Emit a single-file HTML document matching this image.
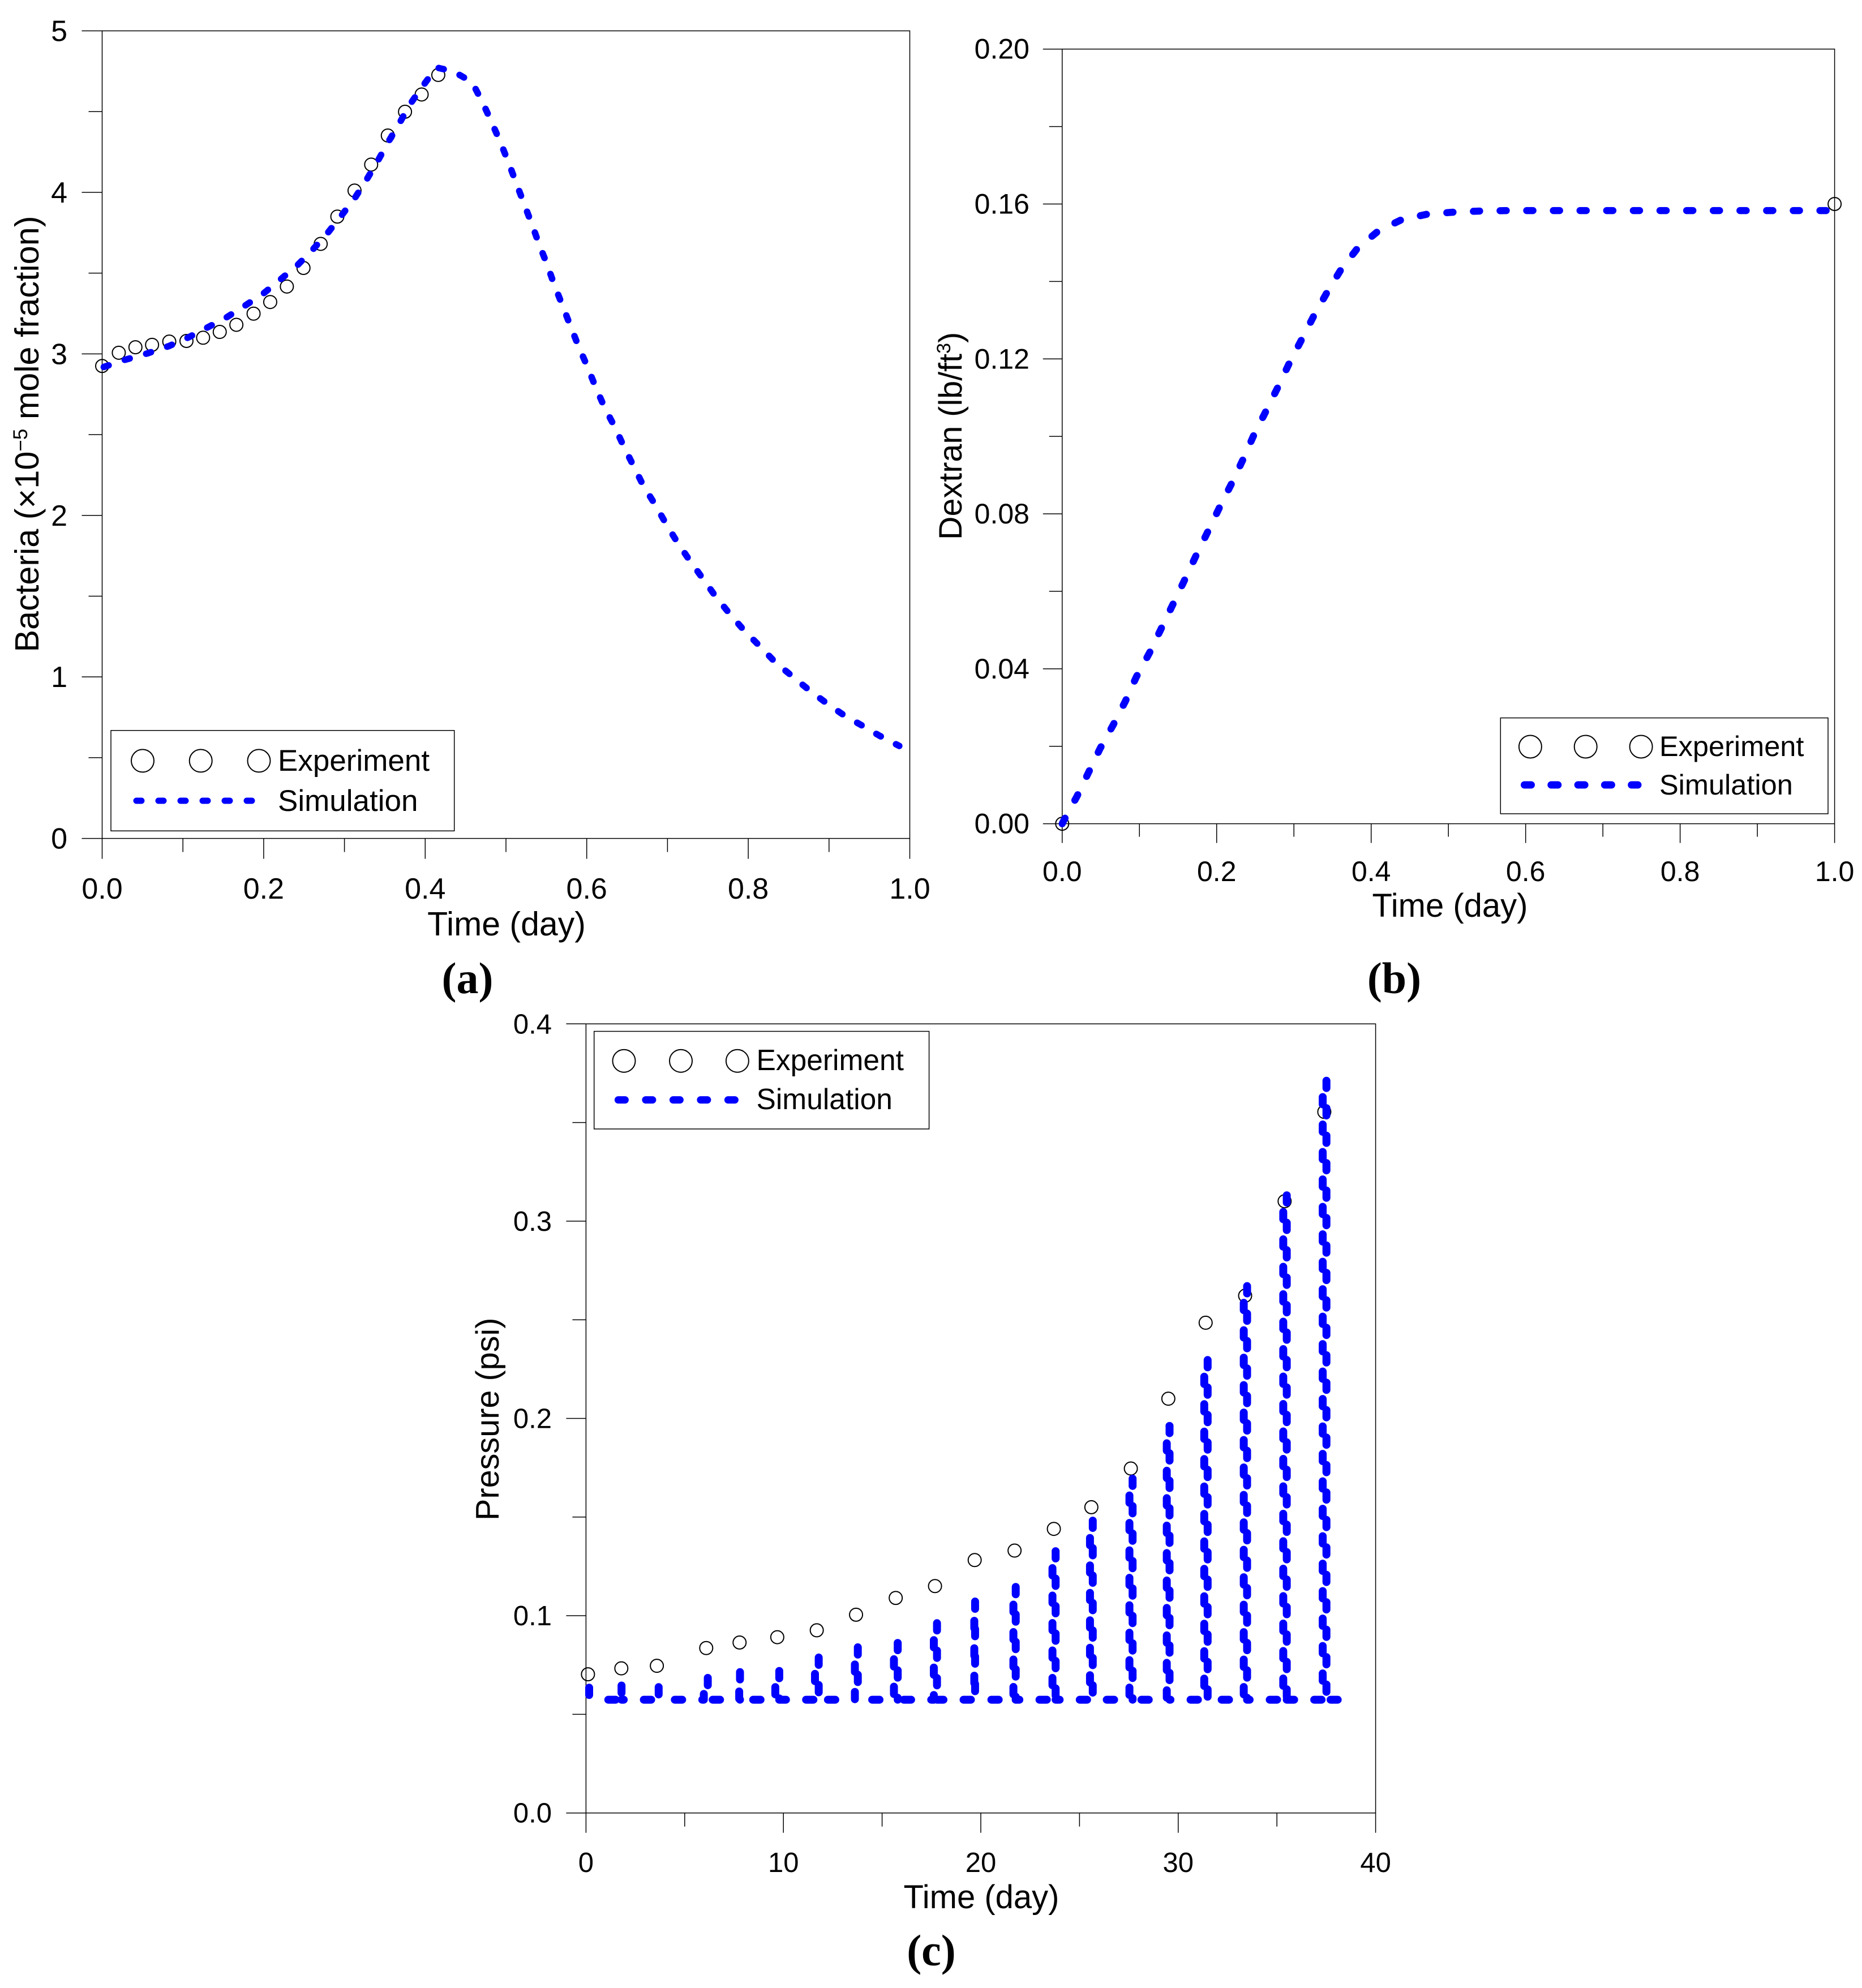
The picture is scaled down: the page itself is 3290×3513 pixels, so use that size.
<!DOCTYPE html>
<html lang="en">
<head>
<meta charset="utf-8">
<title>Bacteria, dextran and pressure: experiment vs simulation</title>
<style>
html,body{margin:0;padding:0;background:#fff;}
svg{display:block;font-family:"Liberation Sans",Arial,sans-serif;fill:#000;}
.cap{font-family:"Liberation Serif",serif;font-weight:bold;font-size:78px;text-anchor:middle;}
</style>
</head>
<body>
<svg id="figure" xmlns="http://www.w3.org/2000/svg" width="3290" height="3513" viewBox="0 0 3290 3513">
<rect x="0" y="0" width="3290" height="3513" fill="#fff"/>

<g id="chart-a">
  <text transform="translate(68,1152.5) rotate(-90)" font-size="59.4">Bacteria (×10<tspan dy="-20" font-size="35">−5</tspan><tspan dy="20"> mole fraction)</tspan></text>
  <text x="895" y="1653" font-size="59" text-anchor="middle">Time (day)</text>
  <g>
    <rect x="196" y="1290.8" width="606.7" height="177.5" fill="none" stroke="#000" stroke-width="1.5"/>
    <circle cx="252" cy="1344.4" r="20" fill="none" stroke="#000" stroke-width="2"/>
    <circle cx="354.7" cy="1344.4" r="20" fill="none" stroke="#000" stroke-width="2"/>
    <circle cx="457.5" cy="1344.4" r="20" fill="none" stroke="#000" stroke-width="2"/>
    <text x="491" y="1362" font-size="53">Experiment</text>
    <line x1="241" y1="1415" x2="446" y2="1415" stroke="#0000ff" stroke-width="11" stroke-linecap="round" stroke-dasharray="9 30"/>
    <text x="491" y="1433" font-size="53">Simulation</text>
  </g>
  <text class="cap" x="826" y="1755">(a)</text>
</g>

<g id="chart-b">
  <text transform="translate(1699,954) rotate(-90)" font-size="57.5">Dextran (lb/ft<tspan dy="-20" font-size="34">3</tspan><tspan dy="20">)</tspan></text>
  <text x="2562" y="1620" font-size="58" text-anchor="middle">Time (day)</text>
  <g>
    <rect x="2651.3" y="1268.6" width="578.7" height="169.4" fill="none" stroke="#000" stroke-width="1.5"/>
    <circle cx="2703.9" cy="1319.5" r="20" fill="none" stroke="#000" stroke-width="2"/>
    <circle cx="2801.7" cy="1319.5" r="20" fill="none" stroke="#000" stroke-width="2"/>
    <circle cx="2899.6" cy="1319.5" r="20" fill="none" stroke="#000" stroke-width="2"/>
    <text x="2932" y="1336" font-size="50.5">Experiment</text>
    <line x1="2693.5" y1="1387" x2="2894" y2="1387" stroke="#0000ff" stroke-width="13" stroke-linecap="round" stroke-dasharray="12 35.3"/>
    <text x="2932" y="1404" font-size="50.5">Simulation</text>
  </g>
  <text class="cap" x="2463.5" y="1755">(b)</text>
</g>

<g id="chart-c">
  <text transform="translate(881,2687) rotate(-90)" font-size="57.6">Pressure (psi)</text>
  <text x="1734" y="3372" font-size="58" text-anchor="middle">Time (day)</text>
  <text class="cap" x="1645.5" y="3473">(c)</text>
</g>

<g id="legend-c">
  <rect x="1049.7" y="1822.5" width="591.9" height="172.5" fill="#fff" stroke="#000" stroke-width="1.5"/>
  <circle cx="1102.5" cy="1874.7" r="20" fill="none" stroke="#000" stroke-width="2"/>
  <circle cx="1203" cy="1874.7" r="20" fill="none" stroke="#000" stroke-width="2"/>
  <circle cx="1302.9" cy="1874.7" r="20" fill="none" stroke="#000" stroke-width="2"/>
  <text x="1336.5" y="1891" font-size="51.5">Experiment</text>
  <line x1="1092.4" y1="1943.6" x2="1299" y2="1943.6" stroke="#0000ff" stroke-width="13" stroke-linecap="round" stroke-dasharray="12 36.5"/>
  <text x="1336.5" y="1960" font-size="51.5">Simulation</text>
</g>
</svg>

<script>
// ---------- Panel (a): bacteria ----------
const bacteriaXMajor = [0, 0.2, 0.4, 0.6, 0.8, 1.0];
const bacteriaXMinor = [0.1, 0.3, 0.5, 0.7, 0.9];
const bacteriaXLabels = ['0.0', '0.2', '0.4', '0.6', '0.8', '1.0'];
const bacteriaYMajor = [0, 1, 2, 3, 4, 5];
const bacteriaYMinor = [0.5, 1.5, 2.5, 3.5, 4.5];
const bacteriaYLabels = ['0', '1', '2', '3', '4', '5'];
const bacteriaExpTime = [0, 0.0206, 0.0412, 0.0618, 0.0831, 0.1044, 0.125, 0.1456, 0.1662, 0.1875, 0.2081, 0.2287, 0.2493, 0.2706, 0.2912, 0.3125, 0.3331, 0.3537, 0.375, 0.3956, 0.4162];
const bacteriaExpValue = [2.925, 3.007, 3.041, 3.056, 3.076, 3.08, 3.1, 3.136, 3.18, 3.249, 3.321, 3.417, 3.532, 3.681, 3.85, 4.011, 4.172, 4.352, 4.499, 4.606, 4.727];
const bacteriaSimTime = [0.002, 0.028, 0.056, 0.083, 0.106, 0.129, 0.154, 0.177, 0.2, 0.221, 0.242, 0.261, 0.279, 0.295, 0.3125, 0.327, 0.341, 0.354, 0.368, 0.381, 0.397, 0.414, 0.435, 0.458, 0.471, 0.482, 0.493, 0.503, 0.5125, 0.522, 0.532, 0.541, 0.551, 0.56, 0.57, 0.58, 0.59, 0.601, 0.611, 0.622, 0.635, 0.646, 0.658, 0.67, 0.685, 0.6985, 0.7125, 0.728, 0.744, 0.76, 0.777, 0.795, 0.814, 0.833, 0.854, 0.875, 0.896, 0.919, 0.943, 0.9625, 0.987];
const bacteriaSimValue = [2.919, 2.963, 3.003, 3.049, 3.1, 3.16, 3.226, 3.299, 3.375, 3.462, 3.55, 3.647, 3.747, 3.848, 3.962, 4.075, 4.192, 4.31, 4.427, 4.544, 4.658, 4.773, 4.749, 4.682, 4.558, 4.437, 4.312, 4.186, 4.061, 3.934, 3.804, 3.679, 3.552, 3.425, 3.299, 3.17, 3.045, 2.919, 2.794, 2.669, 2.545, 2.426, 2.305, 2.185, 2.064, 1.945, 1.831, 1.717, 1.607, 1.495, 1.391, 1.287, 1.192, 1.093, 1.006, 0.92, 0.841, 0.761, 0.693, 0.636, 0.573];

// ---------- Panel (b): dextran ----------
const dextranXMajor = [0, 0.2, 0.4, 0.6, 0.8, 1.0];
const dextranXMinor = [0.1, 0.3, 0.5, 0.7, 0.9];
const dextranXLabels = ['0.0', '0.2', '0.4', '0.6', '0.8', '1.0'];
const dextranYMajor = [0, 0.04, 0.08, 0.12, 0.16, 0.2];
const dextranYMinor = [0.02, 0.06, 0.1, 0.14, 0.18];
const dextranYLabels = ['0.00', '0.04', '0.08', '0.12', '0.16', '0.20'];
const dextranExpTime = [0, 1.0];
const dextranExpValue = [0, 0.16];
const dextranSimTime = [0, 0.002, 0.019, 0.034, 0.049, 0.066, 0.082, 0.096, 0.113, 0.128, 0.143, 0.158, 0.173, 0.188, 0.203, 0.219, 0.234, 0.248, 0.264, 0.279, 0.294, 0.31, 0.326, 0.343, 0.361, 0.382, 0.409, 0.439, 0.473, 0.507, 0.543, 0.578, 0.7, 0.85, 1.0];
const dextranSimValue = [0, 0.0008, 0.007, 0.0132, 0.0194, 0.0255, 0.0317, 0.0379, 0.0441, 0.0503, 0.0565, 0.0627, 0.0691, 0.0752, 0.0814, 0.0877, 0.094, 0.1003, 0.1066, 0.1126, 0.1189, 0.125, 0.1312, 0.1372, 0.1431, 0.1485, 0.153, 0.1559, 0.1574, 0.1579, 0.1582, 0.1583, 0.1583, 0.1583, 0.1583];

// ---------- Panel (c): pressure ----------
const pressureXMajor = [0, 10, 20, 30, 40];
const pressureXMinor = [5, 15, 25, 35];
const pressureXLabels = ['0', '10', '20', '30', '40'];
const pressureYMajor = [0, 0.1, 0.2, 0.3, 0.4];
const pressureYMinor = [0.05, 0.15, 0.25, 0.35];
const pressureYLabels = ['0.0', '0.1', '0.2', '0.3', '0.4'];
const pressureExpTime = [0.1, 1.79, 3.59, 6.09, 7.78, 9.69, 11.69, 13.68, 15.69, 17.68, 19.69, 21.71, 23.7, 25.6, 27.6, 29.5, 31.39, 33.39, 35.39, 37.4];
const pressureExpValue = [0.0703, 0.0733, 0.0746, 0.0836, 0.0864, 0.0891, 0.0926, 0.1005, 0.109, 0.115, 0.1282, 0.133, 0.144, 0.155, 0.1746, 0.21, 0.2485, 0.2622, 0.3101, 0.3554];
const pressureCycleUp = [0, 1.7, 3.49, 5.97, 7.76, 9.59, 11.6, 13.62, 15.6, 17.62, 19.67, 21.65, 23.63, 25.53, 27.53, 29.42, 31.32, 33.32, 35.32, 37.32];
const pressureCycleDown = [0.16, 1.8, 3.68, 6.17, 7.8, 9.79, 11.79, 13.77, 15.79, 17.78, 19.71, 21.77, 23.79, 25.67, 27.69, 29.56, 31.49, 33.49, 35.5, 37.51];
const pressureCyclePeak = [0.0635, 0.0646, 0.0638, 0.0685, 0.0714, 0.072, 0.0788, 0.084, 0.0862, 0.0962, 0.1072, 0.1146, 0.1327, 0.1482, 0.1695, 0.1962, 0.2296, 0.2671, 0.3131, 0.3712];
const pressureBase = [0.0574];
const pressureTailTime = [37.72, 38.08];

// ---------- Helpers ----------
const SVGNS = 'http://www.w3.org/2000/svg';
function make(tag, attrs, parent) {
  const n = document.createElementNS(SVGNS, tag);
  for (const k in attrs) n.setAttribute(k, attrs[k]);
  parent.appendChild(n);
  return n;
}
function scale(d0, d1, r0, r1) {
  return v => r0 + (v - d0) * (r1 - r0) / (d1 - d0);
}
function drawAxes(parent, f, x, y, xMajor, xMinor, xLabels, yMajor, yMinor, yLabels) {
  const lineStyle = {stroke: '#000', 'stroke-width': 1.5};
  const frame = make('rect', {x: f.l, y: f.t, width: f.r - f.l, height: f.b - f.t, fill: 'none', stroke: '#000', 'stroke-width': 1.5}, parent);
  
  
  xMajor.forEach((v, i) => {
    const t = make('line', Object.assign({x1: x(v), x2: x(v), y1: f.b, y2: f.b + f.major}, lineStyle), parent);
    
    
    const l = make('text', {x: x(v), y: f.xBase, 'font-size': f.font, 'text-anchor': 'middle'}, parent);
    l.textContent = xLabels[i];
    
    
  });
  xMinor.forEach(v => {
    const t = make('line', Object.assign({x1: x(v), x2: x(v), y1: f.b, y2: f.b + f.minor}, lineStyle), parent);
    
    
  });
  yMajor.forEach((v, i) => {
    const t = make('line', Object.assign({x1: f.l - f.major, x2: f.l, y1: y(v), y2: y(v)}, lineStyle), parent);
    
    
    const l = make('text', {x: f.yRight, y: y(v) + f.yShift, 'font-size': f.font, 'text-anchor': 'end'}, parent);
    l.textContent = yLabels[i];
    
    
  });
  yMinor.forEach(v => {
    const t = make('line', Object.assign({x1: f.l - f.minor, x2: f.l, y1: y(v), y2: y(v)}, lineStyle), parent);
    
    
  });
}
function drawPoints(parent, x, y, ts, vs) {
  ts.forEach((t, i) => {
    const c = make('circle', {cx: x(t), cy: y(vs[i]), r: 11.5, fill: 'none', stroke: '#000', 'stroke-width': 2}, parent);
    
    
  });
}
function drawLine(parent, x, y, ts, vs, width, dash) {
  const pts = ts.map((t, i) => x(t).toFixed(1) + ',' + y(vs[i]).toFixed(1)).join(' ');
  const p = make('polyline', {points: pts, fill: 'none', stroke: '#0000ff', 'stroke-width': width, 'stroke-linecap': 'round', 'stroke-linejoin': 'round', 'stroke-dasharray': dash}, parent);
  
  
}

// ---------- Panel (a) ----------
const frameA = {l: 180.5, r: 1607.5, t: 54.5, b: 1481.6, major: 36, minor: 24, font: 52, xBase: 1588, yRight: 119, yShift: 18};
const xA = scale(0, 1, frameA.l, frameA.r);
const yA = scale(0, 5, frameA.b, frameA.t);
const gA = document.getElementById('chart-a');
drawAxes(gA, frameA, xA, yA, bacteriaXMajor, bacteriaXMinor, bacteriaXLabels, bacteriaYMajor, bacteriaYMinor, bacteriaYLabels);
drawPoints(gA, xA, yA, bacteriaExpTime, bacteriaExpValue);
drawLine(gA, xA, yA, bacteriaSimTime, bacteriaSimValue, 11.5, '9 30.2');

// ---------- Panel (b) ----------
const frameB = {l: 1876.8, r: 3241.6, t: 86.7, b: 1455.6, major: 34, minor: 23, font: 50, xBase: 1557, yRight: 1819, yShift: 17};
const xB = scale(0, 1, frameB.l, frameB.r);
const yB = scale(0, 0.2, frameB.b, frameB.t);
const gB = document.getElementById('chart-b');
drawAxes(gB, frameB, xB, yB, dextranXMajor, dextranXMinor, dextranXLabels, dextranYMajor, dextranYMinor, dextranYLabels);
drawPoints(gB, xB, yB, dextranExpTime, dextranExpValue);
drawLine(gB, xB, yB, dextranSimTime, dextranSimValue, 12.5, '11 36.1');

// ---------- Panel (c) ----------
const frameC = {l: 1035.4, r: 2430.6, t: 1809.3, b: 3203.7, major: 35, minor: 24, font: 49, xBase: 3308, yRight: 975, yShift: 17};
const xC = scale(0, 40, frameC.l, frameC.r);
const yC = scale(0, 0.4, frameC.b, frameC.t);
const gC = document.getElementById('chart-c');
drawAxes(gC, frameC, xC, yC, pressureXMajor, pressureXMinor, pressureXLabels, pressureYMajor, pressureYMinor, pressureYLabels);
drawPoints(gC, xC, yC, pressureExpTime, pressureExpValue);
(function () {
  const period = 48.5;
  const dashOn = 13;
  const base = yC(pressureBase[0]);
  pressureCyclePeak.forEach((peak, i) => {
    const startX = i === 0 ? xC(pressureCycleUp[0]) : xC(pressureCycleDown[i - 1]);
    const upX = xC(pressureCycleUp[i]);
    const downX = xC(pressureCycleDown[i]);
    const top = yC(peak);
    // arc length from the start of this cycle to the peak, so the dash pattern starts at the peak
    const toPeak = (upX - startX) + (base - top) + (downX - upX);
    const offset = ((-toPeak % period) + period) % period;
    const pts = [[startX, base], [upX, base], [upX, top], [downX, top], [downX, base]];
    const p = make('polyline', {
      points: pts.map(q => q[0].toFixed(1) + ',' + q[1].toFixed(1)).join(' '),
      fill: 'none', stroke: '#0000ff', 'stroke-width': 14,
      'stroke-linecap': 'round', 'stroke-linejoin': 'round',
      'stroke-dasharray': dashOn + ' ' + (period - dashOn),
      'stroke-dashoffset': offset.toFixed(2)
    }, gC);
    
    
  });
  const tail = make('line', {
    x1: xC(pressureTailTime[0]), y1: base, x2: xC(pressureTailTime[1]), y2: base,
    stroke: '#0000ff', 'stroke-width': 14, 'stroke-linecap': 'round'
  }, gC);
  
  
})();
// keep the panel (c) legend above the plot frame
document.getElementById('figure').appendChild(document.getElementById('legend-c'));
</script>
</body>
</html>
